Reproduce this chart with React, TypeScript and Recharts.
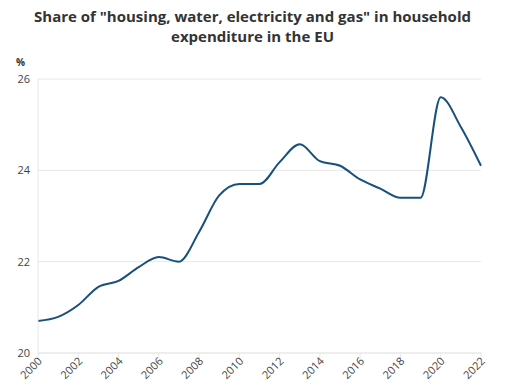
import React from "react";
import { LineChart, Line, XAxis, YAxis, CartesianGrid } from "recharts";

const years = [
  2000, 2001, 2002, 2003, 2004, 2005, 2006, 2007, 2008, 2009, 2010, 2011,
  2012, 2013, 2014, 2015, 2016, 2017, 2018, 2019, 2020, 2021, 2022,
];
const share = [
  20.7, 20.79, 21.05, 21.45, 21.58, 21.88, 22.1, 22.0, 22.65, 23.45, 23.7, 23.7,
  24.18, 24.57, 24.2, 24.1, 23.8, 23.6, 23.4, 23.4, 25.6, 24.95, 24.1,
];
const xTicks = [2000, 2002, 2004, 2006, 2008, 2010, 2012, 2014, 2016, 2018, 2020, 2022];
const yTicks = [20, 22, 24, 26];

const data = years.map((y, i) => ({ year: y, value: share[i] }));

const FONT = "'Open Sans', sans-serif";

function XTick(props: any) {
  const { x, y, payload } = props;
  return (
    <g transform={`translate(${x + 2},${y - 1})`}>
      <text
        textAnchor="end"
        transform="rotate(-45)"
        fontSize={11}
        fill="#444"
        fontFamily={FONT}
        dy={4}
      >
        {payload.value}
      </text>
    </g>
  );
}

export default function App() {
  return (
    <div style={{ position: "absolute", left: 0, top: 0, width: 505, height: 385, background: "#fff" }}>
      <div
        style={{
          position: "absolute",
          left: 0,
          top: 6,
          width: 505,
          textAlign: "center",
          fontFamily: FONT,
          fontWeight: 700,
          fontSize: 15,
          lineHeight: "20px",
          color: "#333",
        }}
      >
        Share of "housing, water, electricity and gas" in household
        <br />
        expenditure in the EU
      </div>
      <div
        style={{
          position: "absolute",
          left: 16,
          top: 55,
          fontFamily: FONT,
          fontWeight: 700,
          fontSize: 10,
          color: "#333",
        }}
      >
        %
      </div>
      <LineChart
        width={505}
        height={385}
        data={data}
        margin={{ top: 79, right: 24, left: 0, bottom: 0 }}
      >
        <CartesianGrid vertical={false} stroke="#e8e8e8" />
        <XAxis
          dataKey="year"
          type="number"
          domain={[2000, 2022]}
          ticks={xTicks}
          height={32}
          axisLine={{ stroke: "#e8e8e8" }}
          tickLine={{ stroke: "#e8e8e8" }}
          tickSize={5}
          tick={<XTick />}
          interval={0}
        />
        <YAxis
          domain={[20, 26]}
          ticks={yTicks}
          width={38}
          axisLine={{ stroke: "#e8e8e8" }}
          tickLine={false}
          tick={{ fontSize: 11, fill: "#444", fontFamily: FONT }}
          tickMargin={2}
        />
        <Line
          type="monotone"
          dataKey="value"
          stroke="#17507c"
          strokeWidth={2}
          dot={false}
          isAnimationActive={false}
        />
      </LineChart>
    </div>
  );
}
